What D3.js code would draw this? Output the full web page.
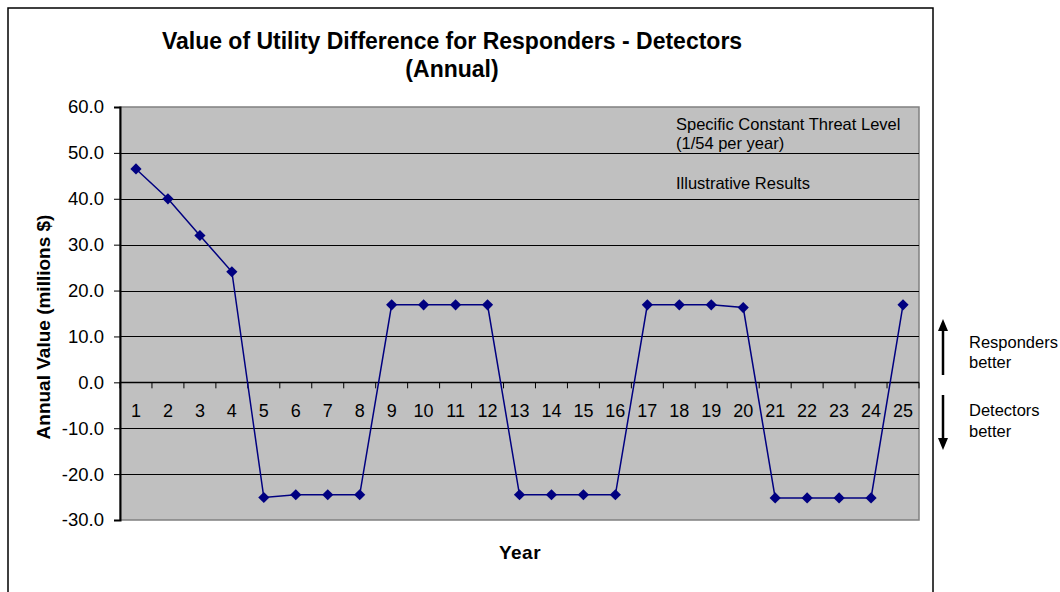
<!DOCTYPE html>
<html>
<head>
<meta charset="utf-8">
<script src="https://cdn.jsdelivr.net/npm/d3@7"></script>
<style>
  body { margin: 0; background: #fff; }
  text { font-family: Arial, "Liberation Sans", sans-serif; }
</style>
</head>
<body>
<svg id="chart" width="1060" height="592"></svg>
<script>
// data ************************************************************
var years = d3.range(1, 26);
var values = [46.5, 40.0, 32.0, 24.1, -25.1, -24.5, -24.5, -24.5,
              16.9, 16.9, 16.9, 16.9, -24.5, -24.5, -24.5, -24.5,
              16.9, 16.9, 16.9, 16.3, -25.2, -25.2, -25.2, -25.2, 16.9];
var yTicks = [-30, -20, -10, 0, 10, 20, 30, 40, 50, 60];
var titleLines = ["Value of Utility Difference for Responders - Detectors", "(Annual)"];
var notes = ["Specific Constant Threat Level", "(1/54 per year)", "Illustrative Results"];

// layout ************************************************************
var svg = d3.select("#chart");
var plotL = 120, plotR = 919, plotT = 107, plotB = 520;

svg.append("rect")
  .attr("x", 8).attr("y", 8).attr("width", 925).attr("height", 600)
  .attr("fill", "#fff").attr("stroke", "#000").attr("stroke-width", 1.5);

var x = d3.scaleBand().domain(years).range([plotL, plotR]);
var y = d3.scaleLinear().domain([-30, 60]).range([plotB, plotT]);

// plot area
svg.append("rect")
  .attr("x", plotL).attr("y", plotT).attr("width", plotR - plotL).attr("height", plotB - plotT)
  .attr("fill", "#c0c0c0").attr("stroke", "#808080").attr("stroke-width", 1.5);

// gridlines
svg.append("g").selectAll("line")
  .data(yTicks.filter(function(d) { return d > -30 && d < 60; }))
  .enter().append("line")
  .attr("x1", plotL).attr("x2", plotR)
  .attr("y1", function(d) { return Math.round(y(d)) + 0.5; })
  .attr("y2", function(d) { return Math.round(y(d)) + 0.5; })
  .attr("stroke", "#000").attr("stroke-width", 1);

// y axis
var yAxis = svg.append("g")
  .attr("transform", "translate(" + plotL + ",0)")
  .call(d3.axisLeft(y).tickValues(yTicks).tickSize(6).tickPadding(10)
    .tickFormat(d3.format(".1f")));
yAxis.select(".domain").attr("stroke", "#000").attr("stroke-width", 2);
yAxis.selectAll("text").attr("font-size", 18.5).attr("fill", "#000")
  .attr("font-family", "Arial, 'Liberation Sans', sans-serif")
  .text(function(d) { return d3.format(".1f")(d).replace("\u2212", "-"); });

// x axis along zero, ticks at category edges
var xAxisG = svg.append("g");
xAxisG.append("line")
  .attr("x1", plotL).attr("x2", plotR)
  .attr("y1", Math.round(y(0)) + 0.5).attr("y2", Math.round(y(0)) + 0.5)
  .attr("stroke", "#000").attr("stroke-width", 1.5);
xAxisG.selectAll(".tk")
  .data(years.concat([26]))
  .enter().append("line")
  .attr("class", "tk")
  .attr("x1", function(d) { return d === 26 ? plotR : x(d); })
  .attr("x2", function(d) { return d === 26 ? plotR : x(d); })
  .attr("y1", y(0)).attr("y2", y(0) + 6)
  .attr("stroke", "#000");
xAxisG.selectAll(".lbl")
  .data(years)
  .enter().append("text")
  .attr("class", "lbl")
  .attr("x", function(d) { return x(d) + x.bandwidth() / 2; })
  .attr("y", y(0) + 35)
  .attr("text-anchor", "middle")
  .attr("font-size", 18)
  .text(function(d) { return d; });

// line + markers
var line = d3.line()
  .x(function(d, i) { return x(years[i]) + x.bandwidth() / 2; })
  .y(function(d) { return y(d); });

svg.append("path")
  .datum(values)
  .attr("d", line)
  .attr("fill", "none")
  .attr("stroke", "#000080")
  .attr("stroke-width", 1.5);

svg.append("g").selectAll("path")
  .data(values)
  .enter().append("path")
  .attr("d", d3.symbol().type(d3.symbolDiamond2).size(80))
  .attr("transform", function(d, i) {
    return "translate(" + (x(years[i]) + x.bandwidth() / 2) + "," + y(d) + ")";
  })
  .attr("fill", "#000080");

// titles
svg.selectAll(".title")
  .data(titleLines)
  .enter().append("text")
  .attr("x", 452)
  .attr("y", function(d, i) { return 49 + i * 28; })
  .attr("text-anchor", "middle")
  .attr("font-size", 23).attr("font-weight", "bold")
  .text(function(d) { return d; });

svg.append("text")
  .attr("transform", "translate(50,327) rotate(-90)")
  .attr("text-anchor", "middle")
  .attr("font-size", 19).attr("font-weight", "bold")
  .text("Annual Value (millions $)");

svg.append("text")
  .attr("x", 520).attr("y", 559)
  .attr("text-anchor", "middle")
  .attr("font-size", 19).attr("font-weight", "bold")
  .attr("letter-spacing", 0.5)
  .text("Year");

// notes
svg.selectAll(".note")
  .data(notes)
  .enter().append("text")
  .attr("x", 676)
  .attr("y", function(d, i) { return [130, 149, 189][i]; })
  .attr("font-size", 16.5)
  .text(function(d) { return d; });

// side arrows
function arrow(x0, yFrom, yTo) {
  var dir = yTo < yFrom ? -1 : 1;
  svg.append("line")
    .attr("x1", x0).attr("x2", x0)
    .attr("y1", yFrom).attr("y2", yTo - dir * 9)
    .attr("stroke", "#000").attr("stroke-width", 2.5);
  svg.append("path")
    .attr("d", "M" + (x0 - 5) + "," + (yTo - dir * 12) + "L" + (x0 + 5) + "," + (yTo - dir * 12) +
      "L" + x0 + "," + yTo + "Z")
    .attr("fill", "#000");
}
arrow(943, 375, 319);
arrow(943, 395, 450);

var side = [["Responders", 348], ["better", 368], ["Detectors", 416], ["better", 437]];
svg.selectAll(".side")
  .data(side)
  .enter().append("text")
  .attr("x", 969)
  .attr("y", function(d) { return d[1]; })
  .attr("font-size", 16.5)
  .text(function(d) { return d[0]; });
</script>
</body>
</html>
